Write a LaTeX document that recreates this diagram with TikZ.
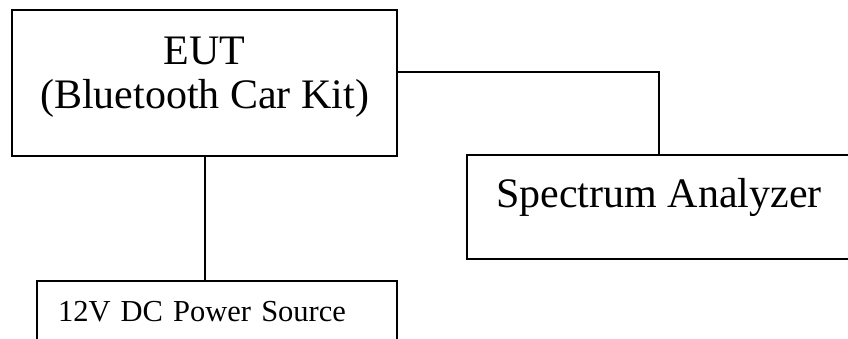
\documentclass[tikz,border=0pt]{standalone}
\usepackage{fontspec}
\setmainfont{Liberation Serif}
\usetikzlibrary{positioning}

\begin{document}
\begin{tikzpicture}[
    x=1pt, y=1pt,
    % --- PLAIN BOX STYLES ---
    device/.style={rectangle, draw, line width=2pt, fill=white, align=center, font=\fontsize{42}{44}\selectfont},
    eut/.style={device, minimum width=385pt, minimum height=146pt, text depth=20pt}, % Unit under test
    meter/.style={device, minimum width=384pt, minimum height=104pt, text height=29pt, text depth=29pt}, % Measuring instrument
    supply/.style={device, anchor=north west, text width=318pt, align=left, inner xsep=21pt, inner ysep=19.5pt,
        text height=21pt, text depth=60pt, font=\fontsize{30.5}{33}\selectfont}, % Power feed
    link/.style={line width=2pt}
]
\useasboundingbox (0,0) rectangle (848,338);

% --- 1. BOXES ---
\node (dut) [eut] at (204.5,255) {EUT\\(Bluetooth Car Kit)};
\node (analyzer) [meter] at (659,131) {Spectrum Analyzer};
\node (psu) [supply] at (36,58) {12V DC Power Source};

% --- 2. CABLES ---
\coordinate (rf_out) at ([yshift=11pt]dut.east);
\draw [link] (rf_out) -| (analyzer.north);
\draw [link] (dut.south) -- (dut.south |- psu.north);

\end{tikzpicture}
\end{document}
